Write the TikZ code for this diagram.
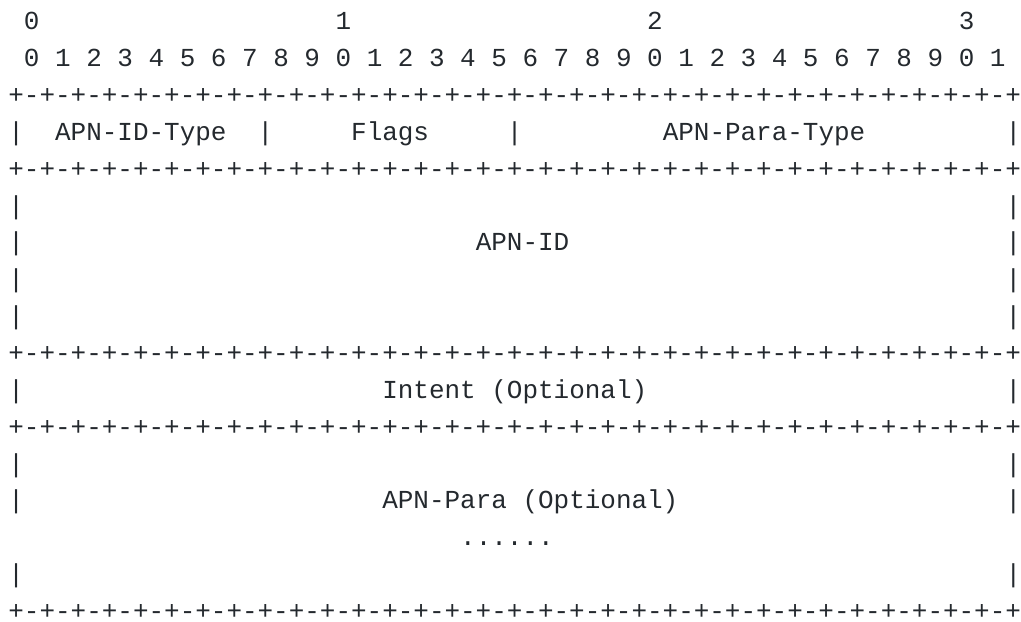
\documentclass[tikz,border=0pt]{standalone}
\usepackage{fontspec}
\newfontfamily\asciifont{Liberation Mono}
\definecolor{ink}{RGB}{36,41,46}
\newcommand{\ruler}{+-+-+-+-+-+-+-+-+-+-+-+-+-+-+-+-+-+-+-+-+-+-+-+-+-+-+-+-+-+-+-+-+}

\begin{document}
\begin{tikzpicture}[x=15.578pt, y=-36.85pt,
    txt/.style={inner sep=0pt, anchor=base west, text=ink, text depth=0pt,
      font=\asciifont\fontsize{25.96pt}{30pt}\selectfont}]
    \useasboundingbox (-0.527,-0.809) rectangle (65.006,16.043);

    % bit numbers
    \foreach \t in {0,...,3}
        \node[txt] (tens\t) at (1+20*\t, 0) {\t};
    \foreach \b in {0,...,31} {
        \pgfmathtruncatemacro\d{mod(\b,10)}
        \node[txt] (bit\b) at (1+2*\b, 1) {\d};
    }

    % rules
    \foreach \r in {2,4,9,11,16}
        \node[txt] (rule\r) at (0, \r) {\ruler};

    % side bars
    \foreach \r in {3,5,6,7,8,10,12,13,15} {
        \node[txt] (left\r) at (0, \r) {|};
        \node[txt] (right\r) at (64, \r) {|};
    }
    \node[txt] (bar16) at (16, 3) {|};
    \node[txt] (bar32) at (32, 3) {|};

    % fields
    \node[txt] (idtype) at (3, 3) {APN-ID-Type};
    \node[txt] (flags) at (22, 3) {Flags};
    \node[txt] (paratype) at (42, 3) {APN-Para-Type};
    \node[txt] (apnid) at (30, 6) {APN-ID};
    \node[txt] (intent) at (24, 10) {Intent (Optional)};
    \node[txt] (apnpara) at (24, 13) {APN-Para (Optional)};
    \node[txt] (more) at (29, 14) {......};
\end{tikzpicture}
\end{document}
